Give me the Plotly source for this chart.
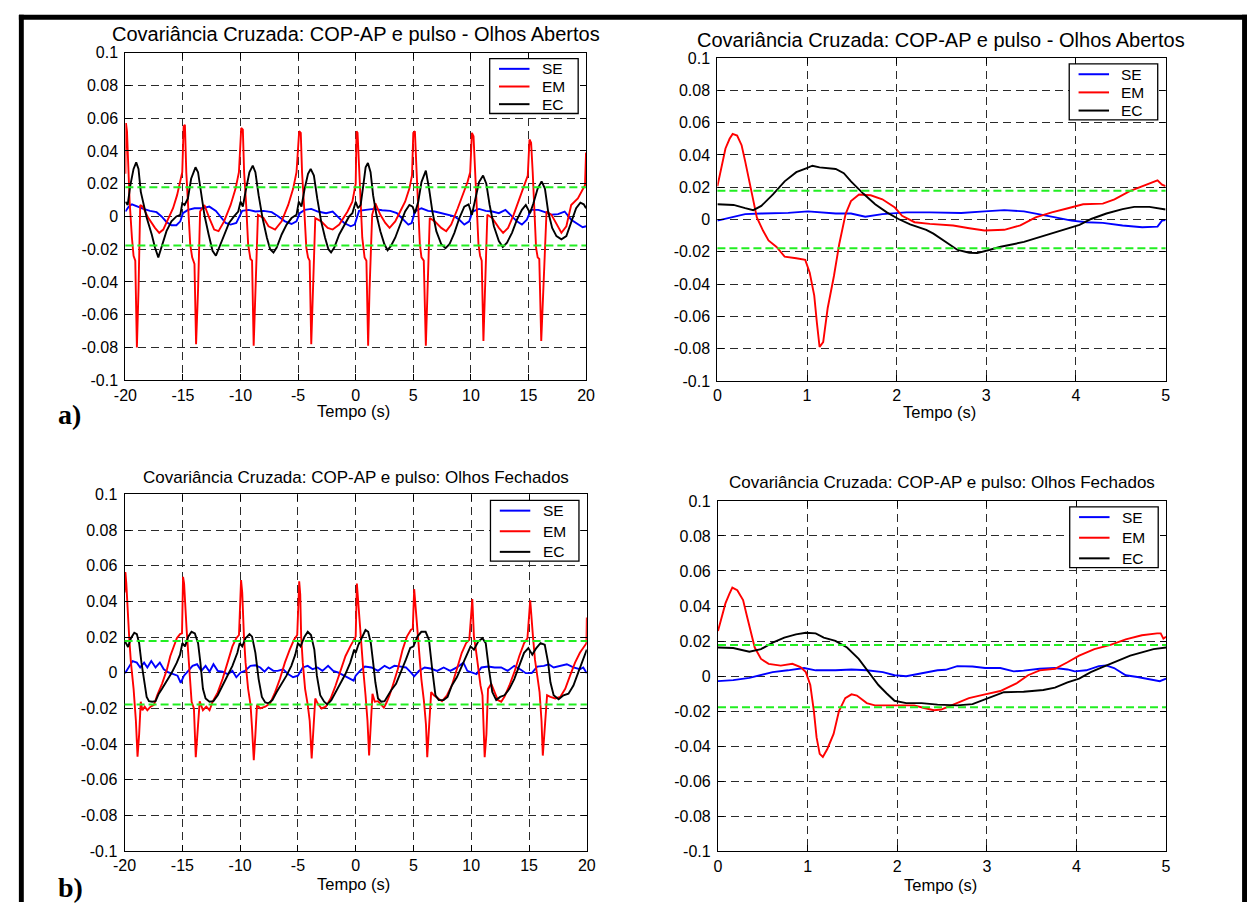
import plotly.graph_objects as go

W, H = 1256, 911

# ---------------------------------------------------------------------------
# Series: SE (sem estímulo), EM, EC -- covariância cruzada COP-AP x pulso
# ---------------------------------------------------------------------------
nomes = ["SE", "EM", "EC"]
cores = ["#0000ff", "#ff0000", "#000000"]
limiar = 0.0178  # faixa de significância (linhas verdes)

yticks = [0.1, 0.08, 0.06, 0.04, 0.02, 0, -0.02, -0.04, -0.06, -0.08, -0.1]
yticktext = ["0.1", "0.08", "0.06", "0.04", "0.02", "0", "-0.02", "-0.04",
             "-0.06", "-0.08", "-0.1"]
xticks_long = [-20, -15, -10, -5, 0, 5, 10, 15, 20]
xticks_zoom = [0, 1, 2, 3, 4, 5]

# ---- Olhos abertos, janela -20..20 s ----
oa_long_se_t = [-20.0, -19.71, -19.43, -19.0, -18.43, -17.86, -17.29, -16.86, -16.43, -16.0,
                -15.57, -15.23, -15.0, -14.57, -14.0, -13.29, -12.71, -12.14, -11.71, -11.29,
                -10.86, -10.37, -10.09, -9.86, -9.29, -8.71, -8.0, -7.29, -6.71, -6.14,
                -5.57, -5.14, -4.86, -4.43, -3.86, -3.29, -2.57, -2.0, -1.43, -1.0,
                -0.43, -0.09, 0.0, 0.29, 0.86, 1.57, 2.29, 3.0, 3.57, 4.14,
                4.57, 4.86, 5.14, 5.71, 6.29, 6.86, 7.43, 8.0, 8.57, 9.0,
                9.43, 9.86, 10.14, 10.71, 11.29, 11.86, 12.43, 13.0, 13.57, 14.0,
                14.43, 14.86, 15.23, 15.86, 16.43, 17.0, 17.57, 18.14, 18.71, 19.29,
                19.71, 20.0]
oa_long_se_v = [0.003, 0.006, 0.0074, 0.006, 0.0046, 0.0034, 0.0026, 0.0, -0.0034, -0.0054,
                -0.0054, -0.003, 0.002, 0.004, 0.005, 0.005, 0.006, 0.0034, 0.0, -0.004,
                -0.005, -0.004, 0.0, 0.0034, 0.004, 0.003, 0.0034, 0.0026, 0.0, -0.003,
                -0.0046, -0.003, 0.002, 0.004, 0.0046, 0.003, 0.002, 0.003, -0.001, -0.004,
                -0.006, -0.005, -0.003, 0.0034, 0.004, 0.0046, 0.0038, 0.0034, 0.002, -0.002,
                -0.005, -0.004, 0.003, 0.005, 0.0034, 0.003, 0.002, 0.001, 0.0, -0.002,
                -0.005, -0.003, 0.003, 0.0046, 0.0034, 0.003, 0.002, 0.004, 0.0, -0.003,
                -0.005, -0.002, 0.004, 0.004, 0.0026, 0.001, 0.0014, 0.003, -0.002, -0.005,
                -0.0066, -0.006]

oa_long_em_t = [-20.0, -19.95, -19.86, -19.71, -19.63, -19.43, -19.29, -19.14, -19.0, -18.86,
                -18.71, -18.49, -18.0, -17.43, -17.06, -16.71, -16.29, -15.86, -15.51, -15.29,
                -15.06, -14.94, -14.83, -14.71, -14.57, -14.37, -14.2, -14.0, -13.86, -13.69,
                -13.51, -13.14, -12.71, -12.29, -11.91, -11.43, -10.86, -10.43, -10.14, -9.94,
                -9.8, -9.69, -9.51, -9.34, -9.14, -9.0, -8.86, -8.71, -8.49, -8.0,
                -7.57, -7.0, -6.43, -5.86, -5.43, -5.14, -4.91, -4.77, -4.66, -4.49,
                -4.29, -4.14, -4.0, -3.86, -3.69, -3.51, -3.0, -2.43, -2.0, -1.43,
                -0.71, -0.29, 0.0, 0.07, 0.16, 0.29, 0.43, 0.57, 0.77, 0.93,
                1.08, 1.2, 1.43, 1.71, 2.14, 2.57, 2.94, 3.43, 3.86, 4.29,
                4.66, 4.89, 5.0, 5.14, 5.29, 5.43, 5.57, 5.71, 5.91, 6.09,
                6.23, 6.43, 6.86, 7.43, 7.86, 8.29, 8.86, 9.29, 9.71, 9.94,
                10.09, 10.23, 10.37, 10.51, 10.66, 10.8, 10.94, 11.09, 11.23, 11.43,
                11.86, 12.43, 12.8, 13.23, 13.71, 14.14, 14.57, 14.94, 15.09, 15.23,
                15.37, 15.51, 15.66, 15.8, 15.94, 16.11, 16.29, 16.57, 17.0, 17.43,
                17.86, 18.29, 18.71, 19.29, 19.71, 19.91, 20.0]
oa_long_em_v = [0.026, 0.057, 0.052, 0.027, 0.009, -0.013, -0.024, -0.027, -0.080, -0.045,
                0.007, 0.006, -0.001, -0.007, -0.010, -0.008, -0.001, 0.005, 0.013, 0.019,
                0.027, 0.055, 0.056, 0.027, 0.009, -0.017, -0.025, -0.029, -0.078, -0.045,
                0.003, 0.007, -0.001, -0.008, -0.009, -0.003, 0.007, 0.017, 0.027, 0.054,
                0.053, 0.027, 0.007, -0.017, -0.026, -0.027, -0.079, -0.045, 0.001, -0.001,
                -0.006, -0.008, -0.003, 0.007, 0.017, 0.027, 0.052, 0.051, 0.027, 0.007,
                -0.019, -0.025, -0.027, -0.078, -0.045, -0.001, -0.003, -0.007, -0.008, -0.005,
                0.003, 0.009, 0.020, 0.052, 0.051, 0.027, 0.007, -0.013, -0.025, -0.027,
                -0.079, -0.045, 0.001, 0.008, 0.001, -0.004, -0.007, -0.003, 0.003, 0.009,
                0.017, 0.025, 0.051, 0.052, 0.027, 0.007, -0.017, -0.025, -0.027, -0.079,
                -0.045, -0.001, -0.003, -0.007, -0.009, -0.005, 0.005, 0.013, 0.021, 0.027,
                0.051, 0.049, 0.027, 0.005, -0.017, -0.024, -0.027, -0.076, -0.045, 0.001,
                -0.001, -0.007, -0.010, -0.007, 0.001, 0.009, 0.017, 0.025, 0.047, 0.045,
                0.027, 0.007, -0.019, -0.025, -0.026, -0.076, -0.045, 0.003, 0.001, -0.005,
                -0.010, -0.006, 0.007, 0.011, 0.016, 0.019, 0.039]

oa_long_ec_t = [-20.0, -19.8, -19.57, -19.29, -19.06, -18.86, -18.66, -18.43, -18.14, -17.71,
                -17.43, -17.14, -16.86, -16.43, -16.0, -15.57, -15.23, -15.06, -14.86, -14.57,
                -14.29, -13.91, -13.69, -13.43, -13.14, -12.77, -12.43, -12.14, -11.86, -11.43,
                -11.0, -10.57, -10.2, -10.0, -9.8, -9.57, -9.23, -8.94, -8.71, -8.43,
                -8.09, -7.71, -7.43, -7.14, -6.86, -6.43, -6.0, -5.57, -5.14, -4.94,
                -4.71, -4.43, -4.14, -3.91, -3.63, -3.34, -3.0, -2.66, -2.37, -2.14,
                -1.86, -1.43, -1.0, -0.57, -0.29, -0.09, 0.0, 0.2, 0.43, 0.66,
                0.86, 1.06, 1.29, 1.51, 1.8, 2.14, 2.49, 2.77, 3.06, 3.43,
                3.86, 4.29, 4.66, 4.94, 5.14, 5.43, 5.71, 6.09, 6.37, 6.66,
                7.0, 7.43, 7.8, 8.14, 8.57, 9.0, 9.43, 9.8, 10.09, 10.37,
                10.71, 11.06, 11.34, 11.63, 12.0, 12.43, 12.77, 13.14, 13.57, 14.0,
                14.43, 14.77, 15.14, 15.43, 15.8, 16.14, 16.43, 16.71, 17.06, 17.43,
                17.86, 18.29, 18.71, 19.14, 19.51, 19.8, 20.0]
oa_long_ec_v = [0.009, 0.007, 0.019, 0.029, 0.033, 0.029, 0.015, 0.007, -0.001, -0.011,
                -0.019, -0.025, -0.019, -0.009, -0.003, 0.0, 0.001, 0.008, 0.007, 0.011,
                0.023, 0.030, 0.027, 0.015, 0.001, -0.011, -0.021, -0.024, -0.019, -0.011,
                -0.004, 0.0, 0.003, 0.009, 0.006, 0.015, 0.027, 0.031, 0.027, 0.013,
                -0.001, -0.013, -0.020, -0.022, -0.019, -0.011, -0.005, -0.001, 0.001, 0.009,
                0.006, 0.017, 0.026, 0.029, 0.025, 0.011, -0.003, -0.013, -0.020, -0.022,
                -0.019, -0.011, -0.005, 0.0, 0.002, 0.008, 0.009, 0.005, 0.007, 0.019,
                0.030, 0.0326, 0.027, 0.013, 0.001, -0.009, -0.017, -0.0206, -0.018, -0.013,
                -0.005, 0.003, 0.007, 0.006, 0.002, 0.009, 0.021, 0.028, 0.017, 0.003,
                -0.009, -0.017, -0.0194, -0.017, -0.010, -0.001, 0.006, 0.0074, 0.001, 0.011,
                0.021, 0.025, 0.020, 0.007, -0.006, -0.015, -0.0186, -0.016, -0.010, -0.002,
                0.004, 0.007, 0.002, 0.008, 0.017, 0.0214, 0.017, 0.003, -0.007, -0.012,
                -0.014, -0.012, -0.003, 0.005, 0.0084, 0.0074, 0.005]

# ---- Olhos abertos, detalhe 0..5 s ----
oa_zoom_se_t = [0.0, 0.136, 0.31, 0.49, 0.79, 1.01, 1.32, 1.49, 1.65, 1.84,
                2.11, 2.37, 2.72, 2.98, 3.2, 3.42, 3.6, 3.77, 3.95, 4.12,
                4.3, 4.52, 4.74, 4.91, 4.96, 5.0]
oa_zoom_se_v = [-0.0007, 0.0009, 0.0033, 0.0037, 0.0041, 0.005, 0.0037, 0.0037, 0.0017, 0.0033,
                0.0044, 0.0044, 0.004, 0.005, 0.0058, 0.005, 0.0033, 0.0013, -0.0007, -0.0017,
                -0.0021, -0.0037, -0.0048, -0.0044, -0.0007, -0.0003]

oa_zoom_em_t = [0.0, 0.048, 0.09, 0.136, 0.17, 0.22, 0.27, 0.31, 0.355, 0.40,
                0.44, 0.51, 0.57, 0.66, 0.75, 0.88, 0.98, 1.03, 1.08, 1.11,
                1.14, 1.18, 1.23, 1.30, 1.36, 1.43, 1.49, 1.58, 1.71, 1.84,
                1.98, 2.06, 2.2, 2.37, 2.63, 2.81, 2.98, 3.2, 3.38, 3.55,
                3.73, 3.9, 4.08, 4.3, 4.43, 4.6, 4.78, 4.91, 4.96, 5.0]
oa_zoom_em_v = [0.0206, 0.034, 0.044, 0.050, 0.053, 0.052, 0.046, 0.036, 0.024, 0.0135,
                0.0013, -0.007, -0.013, -0.017, -0.023, -0.024, -0.025, -0.033, -0.047, -0.064,
                -0.079, -0.076, -0.055, -0.035, -0.015, 0.0033, 0.0114, 0.0155, 0.015, 0.0125,
                0.0074, 0.0023, -0.0017, -0.0027, -0.0037, -0.0054, -0.0068, -0.0064, -0.0037, 0.0013,
                0.0044, 0.0068, 0.0094, 0.0098, 0.0125, 0.0175, 0.0216, 0.0242, 0.0216, 0.0206]

oa_zoom_ec_t = [0.0, 0.18, 0.31, 0.40, 0.49, 0.62, 0.75, 0.88, 0.99, 1.06,
                1.14, 1.32, 1.41, 1.49, 1.63, 1.76, 1.89, 2.02, 2.15, 2.33,
                2.41, 2.55, 2.68, 2.81, 2.9, 3.03, 3.16, 3.42, 3.64, 3.86,
                4.04, 4.17, 4.34, 4.52, 4.65, 4.82, 4.93, 5.0]
oa_zoom_ec_v = [0.0094, 0.009, 0.007, 0.0058, 0.0084, 0.0155, 0.0236, 0.0293, 0.0317, 0.0333,
                0.0323, 0.0313, 0.0287, 0.0236, 0.0159, 0.0094, 0.0044, 0.0003, -0.0031, -0.0064,
                -0.0088, -0.0139, -0.0189, -0.0206, -0.0208, -0.0189, -0.0169, -0.0139, -0.0102, -0.0068,
                -0.0033, 0.0003, 0.0037, 0.0064, 0.0078, 0.0078, 0.007, 0.0062]

# ---- Olhos fechados, janela -20..20 s ----
of_long_se_t = [-19.96, -19.59, -19.31, -18.94, -18.65, -18.31, -18.03, -17.69, -17.32, -16.95,
                -16.61, -16.19, -15.76, -15.42, -15.14, -14.86, -14.49, -14.12, -13.73, -13.36,
                -12.99, -12.65, -12.31, -11.94, -11.52, -11.09, -10.67, -10.33, -9.96, -9.59,
                -9.11, -8.68, -8.26, -7.89, -7.55, -7.12, -6.76, -6.27, -5.85, -5.42,
                -5.0, -4.58, -4.15, -3.73, -3.3, -2.88, -2.39, -1.94, -1.54, -1.03,
                -0.61, -0.18, 0.0, 0.37, 0.8, 1.36, 1.93, 2.5, 2.93, 3.35,
                3.92, 4.35, 4.77, 5.06, 5.48, 5.97, 6.48, 7.05, 7.61, 8.18,
                8.75, 9.32, 9.66, 10.03, 10.45, 10.88, 11.45, 12.02, 12.59, 13.15,
                13.72, 14.29, 14.72, 15.23, 15.71, 16.28, 16.7, 17.13, 17.7, 18.27,
                18.84, 19.4, 19.69, 20.0]
of_long_se_v = [-0.0002, 0.0039, 0.0066, 0.0057, 0.003, 0.0057, 0.003, 0.0066, 0.003, 0.0057,
                0.002, 0.0002, -0.0007, -0.0016, -0.0056, -0.0016, 0.0011, 0.0039, 0.0048, 0.0011,
                0.0039, 0.0006, 0.0048, 0.0011, 0.0006, -0.0007, 0.0011, -0.0025, 0.0002, 0.0011,
                0.0039, 0.0042, 0.003, 0.0006, 0.003, 0.0011, 0.0011, 0.002, -0.0007, -0.0025,
                -0.0016, 0.003, 0.0039, 0.002, 0.003, 0.0011, 0.0039, 0.0011, 0.0002, -0.0016,
                -0.0031, -0.0044, -0.0016, 0.0011, 0.0035, 0.003, 0.0011, 0.0039, 0.0024, 0.0039,
                0.0035, 0.003, 0.0002, -0.002, 0.0011, 0.003, 0.0024, 0.0011, 0.003, 0.0011,
                0.003, 0.0057, 0.0011, 0.0002, -0.0007, 0.003, 0.0035, 0.003, 0.003, 0.0011,
                0.0039, 0.0017, -0.0002, -0.0002, 0.0035, 0.0039, 0.0048, 0.003, 0.0039, 0.0048,
                0.003, 0.002, 0.003, -0.0002]

of_long_em_t = [-20.0, -19.93, -19.85, -19.73, -19.59, -19.45, -19.22, -19.02, -18.88, -18.74,
                -18.6, -18.46, -18.26, -18.03, -17.75, -17.46, -17.18, -16.76, -16.33, -16.05,
                -15.76, -15.48, -15.2, -15.03, -14.94, -14.85, -14.63, -14.49, -14.35, -14.2,
                -14.0, -13.84, -13.7, -13.5, -13.22, -12.93, -12.65, -12.37, -11.94, -11.52,
                -11.09, -10.67, -10.33, -10.1, -9.92, -9.82, -9.67, -9.53, -9.31, -9.1,
                -8.97, -8.82, -8.68, -8.54, -8.26, -7.83, -7.41, -6.98, -6.56, -6.13,
                -5.71, -5.34, -5.06, -4.89, -4.8, -4.72, -4.58, -4.38, -4.15, -3.98,
                -3.81, -3.64, -3.5, -3.3, -2.96, -2.59, -2.17, -1.74, -1.32, -0.89,
                -0.47, -0.13, 0.0, 0.1, 0.18, 0.28, 0.45, 0.65, 0.85, 1.02,
                1.16, 1.31, 1.45, 1.65, 1.93, 2.22, 2.44, 2.64, 2.93, 3.21,
                3.64, 4.06, 4.43, 4.77, 4.94, 5.06, 5.15, 5.28, 5.48, 5.68,
                5.91, 6.08, 6.19, 6.36, 6.53, 6.76, 7.1, 7.47, 7.9, 8.32,
                8.75, 9.18, 9.55, 9.83, 10.09, 10.23, 10.4, 10.6, 10.8, 10.97,
                11.16, 11.31, 11.45, 11.73, 12.02, 12.3, 12.59, 12.87, 13.3, 13.72,
                14.15, 14.57, 14.86, 15.1, 15.34, 15.51, 15.71, 15.91, 16.08, 16.19,
                16.36, 16.56, 16.85, 17.27, 17.7, 18.13, 18.55, 18.98, 19.4, 19.69,
                19.97, 20.0]
of_long_em_v = [0.045, 0.0565, 0.050, 0.031, 0.0185, 0.0057, -0.009, -0.027, -0.047, -0.0345,
                -0.0162, -0.021, -0.019, -0.021, -0.019, -0.018, -0.0126, -0.0062, 0.002, 0.0093,
                0.0148, 0.0194, 0.0217, 0.0221, 0.0538, 0.050, 0.024, 0.0093, -0.0053, -0.0162,
                -0.020, -0.0473, -0.0345, -0.016, -0.021, -0.019, -0.021, -0.016, -0.011, -0.0035,
                0.0057, 0.0148, 0.0194, 0.0212, 0.052, 0.045, 0.0203, 0.0057, -0.009, -0.018,
                -0.031, -0.049, -0.0345, -0.018, -0.020, -0.019, -0.0171, -0.011, -0.0035, 0.0057,
                0.013, 0.0185, 0.0212, 0.0513, 0.044, 0.0203, 0.0057, -0.009, -0.018, -0.027,
                -0.048, -0.031, -0.0144, -0.0171, -0.020, -0.019, -0.0144, -0.0071, 0.0011, 0.0093,
                0.0148, 0.0185, 0.0203, 0.050, 0.043, 0.0312, 0.0185, 0.002, -0.0126, -0.027,
                -0.0464, -0.031, -0.0117, -0.0162, -0.0159, -0.018, -0.0195, -0.0171, -0.0126, -0.0071,
                0.002, 0.013, 0.0203, 0.024, 0.0248, 0.0469, 0.040, 0.0276, 0.0112, -0.0035,
                -0.0162, -0.029, -0.0473, -0.031, -0.0108, -0.0126, -0.0144, -0.0159, -0.0126, -0.0071,
                0.002, 0.0112, 0.0166, 0.0185, 0.0414, 0.0203, 0.013, 0.002, -0.0071, -0.0126,
                -0.0473, -0.0345, -0.009, -0.0062, -0.0108, -0.0153, -0.0162, -0.0135, -0.0071, 0.0002,
                0.0093, 0.0166, 0.0194, 0.0407, 0.0203, 0.0075, -0.0016, -0.0108, -0.027, -0.0464,
                -0.031, -0.0126, -0.0135, -0.0144, -0.0135, -0.009, -0.0016, 0.0057, 0.0112, 0.014,
                0.0166, 0.031]

of_long_ec_t = [-20.0, -19.7, -19.45, -19.16, -18.94, -18.74, -18.54, -18.31, -18.09, -17.89,
                -17.61, -17.32, -17.04, -16.76, -16.33, -15.91, -15.48, -15.2, -15.0, -14.77,
                -14.49, -14.21, -13.92, -13.64, -13.44, -13.22, -12.99, -12.65, -12.31, -11.94,
                -11.52, -11.09, -10.67, -10.24, -10.04, -9.82, -9.53, -9.19, -8.97, -8.68,
                -8.4, -8.12, -7.83, -7.55, -7.21, -6.84, -6.42, -5.99, -5.57, -5.23,
                -5.0, -4.77, -4.43, -4.15, -3.87, -3.58, -3.36, -3.07, -2.73, -2.45,
                -2.11, -1.74, -1.32, -0.89, -0.47, -0.13, 0.0, 0.23, 0.51, 0.85,
                1.08, 1.31, 1.51, 1.7, 1.93, 2.22, 2.5, 2.78, 3.07, 3.49,
                3.92, 4.35, 4.72, 5.0, 5.34, 5.68, 6.05, 6.34, 6.62, 6.9,
                7.19, 7.61, 7.95, 8.32, 8.75, 9.18, 9.6, 9.94, 10.23, 10.6,
                10.97, 11.25, 11.53, 11.82, 12.16, 12.5, 12.87, 13.3, 13.72, 14.15,
                14.57, 14.94, 15.28, 15.63, 15.99, 16.36, 16.65, 16.85, 17.13, 17.56,
                17.98, 18.41, 18.84, 19.26, 19.69, 20.0]
of_long_ec_v = [0.018, 0.0145, 0.0194, 0.0225, 0.0217, 0.0166, 0.0057, -0.0053, -0.0135, -0.0159,
                -0.0162, -0.0159, -0.0117, -0.009, -0.0044, 0.0002, 0.0057, 0.0102, 0.0166, 0.0148,
                0.0203, 0.023, 0.0221, 0.0166, 0.0057, -0.009, -0.0144, -0.0162, -0.0159, -0.0126,
                -0.0071, -0.0016, 0.0039, 0.0112, 0.0166, 0.0148, 0.0194, 0.0217, 0.0203, 0.0112,
                -0.0035, -0.0135, -0.0166, -0.0171, -0.0153, -0.0108, -0.0062, -0.0016, 0.0039, 0.0102,
                0.0166, 0.0148, 0.0203, 0.023, 0.0212, 0.013, -0.0016, -0.0126, -0.0162, -0.0177,
                -0.0153, -0.0108, -0.0062, -0.0007, 0.0057, 0.013, 0.0112, 0.0157, 0.0194, 0.024,
                0.023, 0.0166, 0.0057, -0.0053, -0.0144, -0.0162, -0.0159, -0.0126, -0.0098, -0.0062,
                0.0002, 0.0075, 0.0139, 0.0148, 0.0203, 0.023, 0.023, 0.0185, 0.002, -0.0126,
                -0.0153, -0.0153, -0.0135, -0.0071, -0.0025, 0.0039, 0.0102, 0.0148, 0.013, 0.0175,
                0.0194, 0.0166, 0.002, -0.0108, -0.0153, -0.0135, -0.0126, -0.009, -0.0035, 0.0039,
                0.0112, 0.0139, 0.0102, 0.0139, 0.0166, 0.0157, 0.0057, -0.0053, -0.0126, -0.0148,
                -0.0126, -0.0117, -0.0071, 0.0002, 0.0084, 0.013]

# ---- Olhos fechados, detalhe 0..5 s ----
of_zoom_se_t = [0.0, 0.17, 0.35, 0.48, 0.61, 0.78, 0.96, 1.09, 1.31, 1.49,
                1.66, 1.84, 1.97, 2.1, 2.27, 2.45, 2.54, 2.67, 2.84, 2.98,
                3.15, 3.3, 3.41, 3.59, 3.76, 3.9, 3.98, 4.11, 4.25, 4.33,
                4.42, 4.55, 4.68, 4.82, 4.93, 5.0]
of_zoom_se_v = [-0.0029, -0.0023, -0.001, 0.0005, 0.0023, 0.0033, 0.0046, 0.0033, 0.0033, 0.0038,
                0.0033, 0.0023, 0.0005, -0.0001, 0.0014, 0.0033, 0.0036, 0.0057, 0.0055, 0.0046,
                0.0046, 0.0027, 0.0031, 0.0042, 0.0046, 0.0038, 0.0027, 0.0033, 0.0057, 0.0061,
                0.0046, 0.0005, -0.0005, -0.0018, -0.0029, -0.0014]

of_zoom_em_t = [0.0, 0.04, 0.083, 0.127, 0.16, 0.215, 0.28, 0.324, 0.37, 0.41,
                0.48, 0.565, 0.70, 0.83, 0.92, 0.98, 1.03, 1.07, 1.1, 1.135,
                1.17, 1.22, 1.29, 1.35, 1.42, 1.49, 1.55, 1.66, 1.75, 2.01,
                2.19, 2.30, 2.41, 2.49, 2.62, 2.8, 2.98, 3.15, 3.33, 3.46,
                3.59, 3.76, 3.9, 4.03, 4.2, 4.38, 4.55, 4.73, 4.9, 4.94,
                4.97, 5.0]
of_zoom_em_v = [0.0257, 0.034, 0.0415, 0.047, 0.0505, 0.049, 0.0434, 0.034, 0.0247, 0.0163,
                0.0098, 0.007, 0.006, 0.007, 0.0051, 0.0023, -0.0051, -0.020, -0.035, -0.0444,
                -0.0462, -0.0416, -0.033, -0.020, -0.0126, -0.0104, -0.0111, -0.0154, -0.0167, -0.0167,
                -0.0167, -0.0182, -0.0195, -0.0191, -0.0163, -0.0126, -0.0104, -0.0085, -0.0042, 0.0005,
                0.0033, 0.0042, 0.0079, 0.0117, 0.0154, 0.0178, 0.021, 0.0233, 0.0244, 0.0244,
                0.0214, 0.0225]

of_zoom_ec_t = [0.0, 0.17, 0.35, 0.48, 0.61, 0.74, 0.87, 0.98, 1.09, 1.18,
                1.31, 1.44, 1.57, 1.68, 1.79, 1.88, 1.97, 2.1, 2.27, 2.45,
                2.67, 2.84, 3.02, 3.19, 3.41, 3.63, 3.76, 3.9, 4.03, 4.16,
                4.29, 4.47, 4.6, 4.73, 4.86, 5.0]
of_zoom_ec_v = [0.0163, 0.016, 0.0139, 0.0154, 0.0191, 0.022, 0.0238, 0.0247, 0.0244, 0.022,
                0.0201, 0.0163, 0.0098, 0.0023, -0.0051, -0.0098, -0.0141, -0.0154, -0.0154, -0.0163,
                -0.0167, -0.016, -0.0126, -0.0092, -0.0089, -0.0079, -0.0066, -0.0036, -0.0014, 0.0023,
                0.0051, 0.0089, 0.0117, 0.0135, 0.0154, 0.0163]

# ---------------------------------------------------------------------------
# Painéis: caixa dos eixos em pixels (esq, dir, topo, base)
# ---------------------------------------------------------------------------
titulo_abertos = "Covariância Cruzada: COP-AP e pulso - Olhos Abertos"
titulo_fechados = "Covariância Cruzada: COP-AP e pulso: Olhos Fechados"

paineis = [
    dict(box=(115.3, 583.8, 45.5, 379.3), xr=[-20, 20], xt=xticks_long,
         titulo=titulo_abertos, tfont=dict(family="Liberation Sans", size=20), ty=27,
         xl_y=411, leg_h=56,
         series=[(oa_long_se_t, oa_long_se_v), (oa_long_em_t, oa_long_em_v),
                 (oa_long_ec_t, oa_long_ec_v)]),
    dict(box=(717.4, 1173.2, 51.0, 380.0), xr=[0, 5], xt=xticks_zoom,
         titulo=titulo_abertos, tfont=dict(family="Liberation Sans", size=20), ty=33,
         xl_y=412, leg_h=57,
         series=[(oa_zoom_se_t, oa_zoom_se_v), (oa_zoom_em_t, oa_zoom_em_v),
                 (oa_zoom_ec_t, oa_zoom_ec_v)]),
    dict(box=(114.5, 584.6, 495.7, 859.2), xr=[-20, 20], xt=xticks_long,
         titulo=titulo_fechados, tfont=dict(family="Liberation Sans", size=17), ty=478,
         xl_y=893, leg_h=62,
         series=[(of_long_se_t, of_long_se_v), (of_long_em_t, of_long_em_v),
                 (of_long_ec_t, of_long_ec_v)]),
    dict(box=(718.0, 1173.7, 502.3, 859.3), xr=[0, 5], xt=xticks_zoom,
         titulo=titulo_fechados, tfont=dict(family="Liberation Sans", size=17), ty=484,
         xl_y=894, leg_h=62,
         series=[(of_zoom_se_t, of_zoom_se_v), (of_zoom_em_t, of_zoom_em_v),
                 (of_zoom_ec_t, of_zoom_ec_v)]),
]


def px(x):
    return x / W


def py(y):
    return 1 - y / H


fonte_ticks = dict(family="Liberation Sans", size=16, color="black")
eixo_comum = dict(
    showline=True, linecolor="black", linewidth=1.2, mirror="ticks",
    ticks="inside", ticklen=6, tickwidth=1, tickcolor="black",
    showgrid=True, gridcolor="#2b2b2b", gridwidth=1, griddash="8px,5px",
    zeroline=False, tickfont=fonte_ticks,
)

fig = go.Figure()
layout = dict(
    width=W, height=H, margin=dict(l=0, r=0, t=0, b=0),
    paper_bgcolor="white", plot_bgcolor="white", showlegend=False,
)
shapes = []
annotations = []

for i, p in enumerate(paineis, start=1):
    xa = "x" if i == 1 else f"x{i}"
    ya = "y" if i == 1 else f"y{i}"
    l, r, t, b = p["box"]
    layout["xaxis" if i == 1 else f"xaxis{i}"] = dict(
        eixo_comum, domain=[px(l), px(r)], range=p["xr"], anchor=ya,
        tickvals=p["xt"], ticktext=[str(v) for v in p["xt"]],
    )
    layout["yaxis" if i == 1 else f"yaxis{i}"] = dict(
        eixo_comum, domain=[py(b), py(t)], range=[-0.1, 0.1], anchor=xa,
        tickvals=yticks, ticktext=yticktext, ticklabelstandoff=3,
    )

    for (tt, vv), nome, cor in zip(p["series"], nomes, cores):
        fig.add_trace(go.Scatter(x=tt, y=vv, mode="lines", name=nome,
                                 line=dict(color=cor, width=1.9),
                                 xaxis=xa, yaxis=ya, hoverinfo="skip"))

    # faixa de significância
    for s in (limiar, -limiar):
        shapes.append(dict(type="line", xref=f"{xa} domain", yref=ya,
                           x0=0, x1=1, y0=s, y1=s, layer="above",
                           line=dict(color="#22ee22", width=2, dash="8px,4px")))

    # título e rótulo do eixo x
    annotations.append(dict(text=p["titulo"], x=px((l + r) / 2), y=py(p["ty"]),
                            xref="paper", yref="paper", showarrow=False,
                            xanchor="center", yanchor="middle",
                            font=dict(p["tfont"], color="black")))
    annotations.append(dict(text="Tempo (s)", x=px((l + r) / 2 - 2), y=py(p["xl_y"]),
                            xref="paper", yref="paper", showarrow=False,
                            xanchor="center", yanchor="middle",
                            font=dict(family="Liberation Sans", size=16.5, color="black")))

    # legenda em caixa no canto superior direito
    bx1 = r - 8
    bx0 = bx1 - 90
    by0 = t + 6
    by1 = by0 + p["leg_h"]
    shapes.append(dict(type="rect", xref="paper", yref="paper",
                       x0=px(bx0), x1=px(bx1), y0=py(by1), y1=py(by0),
                       fillcolor="white", line=dict(color="black", width=1.3),
                       layer="above"))
    passo = (p["leg_h"] - 20) / 2
    for k, (nome, cor) in enumerate(zip(nomes, cores)):
        yy = by0 + 10.5 + passo * k
        shapes.append(dict(type="line", xref="paper", yref="paper",
                           x0=px(bx0 + 9.5), x1=px(bx0 + 40.5), y0=py(yy), y1=py(yy),
                           line=dict(color=cor, width=2), layer="above"))
        annotations.append(dict(text=nome, x=px(bx0 + 51), y=py(yy),
                                xref="paper", yref="paper", showarrow=False,
                                xanchor="left", yanchor="middle",
                                font=dict(family="Liberation Sans", size=15.5,
                                          color="black")))

# letras dos painéis
for letra, (lx, ly) in (("a)", (45, 414)), ("b)", (45, 896))):
    annotations.append(dict(text=f"<b>{letra}</b>", x=px(lx), y=py(ly),
                            xref="paper", yref="paper", showarrow=False,
                            xanchor="left", yanchor="middle",
                            font=dict(family="Liberation Serif", size=28,
                                      color="black")))

# moldura da figura
for x0, x1, y0, y1 in ((7, W, 7, 12), (7, 12, 7, H), (1251, W, 7, H)):
    shapes.append(dict(type="rect", xref="paper", yref="paper",
                       x0=px(x0), x1=px(x1), y0=py(y1), y1=py(y0),
                       fillcolor="black", line=dict(width=0), layer="above"))

layout["shapes"] = shapes
layout["annotations"] = annotations
fig.update_layout(**layout)
fig.write_html("out.html")
